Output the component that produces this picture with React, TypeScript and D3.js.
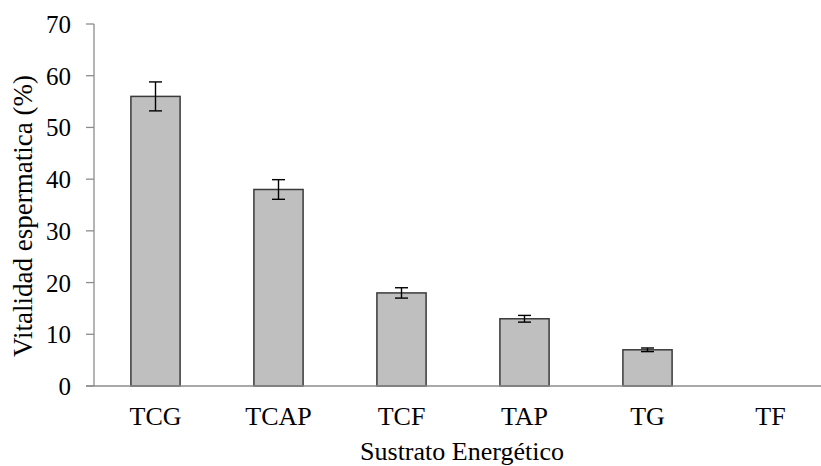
import * as d3 from 'd3'

const categories = ['TCG', 'TCAP', 'TCF', 'TAP', 'TG', 'TF']
const vitality = [56, 38, 18, 13, 7, 0]
const errors = [2.8, 1.9, 1.0, 0.65, 0.35, 0]
const yTicks = [0, 10, 20, 30, 40, 50, 60, 70]

const yTitle = 'Vitalidad espermatica (%)'
const xTitle = 'Sustrato Energético'

const textStyle = { fontFamily: "'Liberation Serif'" }

export default function App() {
  const width = 821
  const height = 466
  const axisLeft = 94
  const axisBottom = 386
  const axisTop = 24

  const x = d3
    .scaleBand()
    .domain(categories)
    .range([axisLeft, 832])
    .paddingInner(0.6)
    .paddingOuter(0.3)
  const y = d3.scaleLinear().domain([0, 70]).range([axisBottom, axisTop])
  const bw = x.bandwidth()
  const axisColor = '#8c8c8c'

  return (
    <svg width={width} height={height} style={{ position: 'absolute', left: 0, top: 0, background: '#fff' }}>
      {/* y axis */}
      <line x1={axisLeft} x2={axisLeft} y1={axisTop} y2={axisBottom} stroke={axisColor} strokeWidth={1.3} />
      {yTicks.map((t) => (
        <g key={t}>
          <line x1={axisLeft - 8} x2={axisLeft} y1={y(t)} y2={y(t)} stroke={axisColor} strokeWidth={1.3} />
          <text x={71} y={y(t) + 9} textAnchor="end" fontSize={25} fill="#000" style={textStyle}>
            {t}
          </text>
        </g>
      ))}

      {/* bars */}
      {categories.map((c, i) => {
        const x0 = x(c) ?? 0
        const cx = x0 + bw / 2
        const v = vitality[i]
        const e = errors[i]
        return (
          <g key={c}>
            {v > 0 && (
              <rect
                x={x0}
                y={y(v)}
                width={bw}
                height={axisBottom - y(v)}
                fill="#bfbfbf"
                stroke="#3a3a3a"
                strokeWidth={1.5}
              />
            )}
            {e > 0 && (
              <g stroke="#000" strokeWidth={1.4}>
                <line x1={cx} x2={cx} y1={y(v + e)} y2={y(v - e)} />
                <line x1={cx - 6.5} x2={cx + 6.5} y1={y(v + e)} y2={y(v + e)} />
                <line x1={cx - 6.5} x2={cx + 6.5} y1={y(v - e)} y2={y(v - e)} />
              </g>
            )}
            <text x={cx} y={425} textAnchor="middle" fontSize={26} fill="#000" style={textStyle}>
              {c}
            </text>
          </g>
        )
      })}

      {/* x axis */}
      <line x1={axisLeft - 8} x2={832} y1={axisBottom} y2={axisBottom} stroke={axisColor} strokeWidth={1.3} />

      <text x={462} y={460} textAnchor="middle" fontSize={26} fill="#000" style={textStyle}>
        {xTitle}
      </text>
      <text
        transform={`translate(32,216) rotate(-90)`}
        textAnchor="middle"
        fontSize={27}
        fill="#000"
        style={textStyle}
      >
        {yTitle}
      </text>
    </svg>
  )
}
